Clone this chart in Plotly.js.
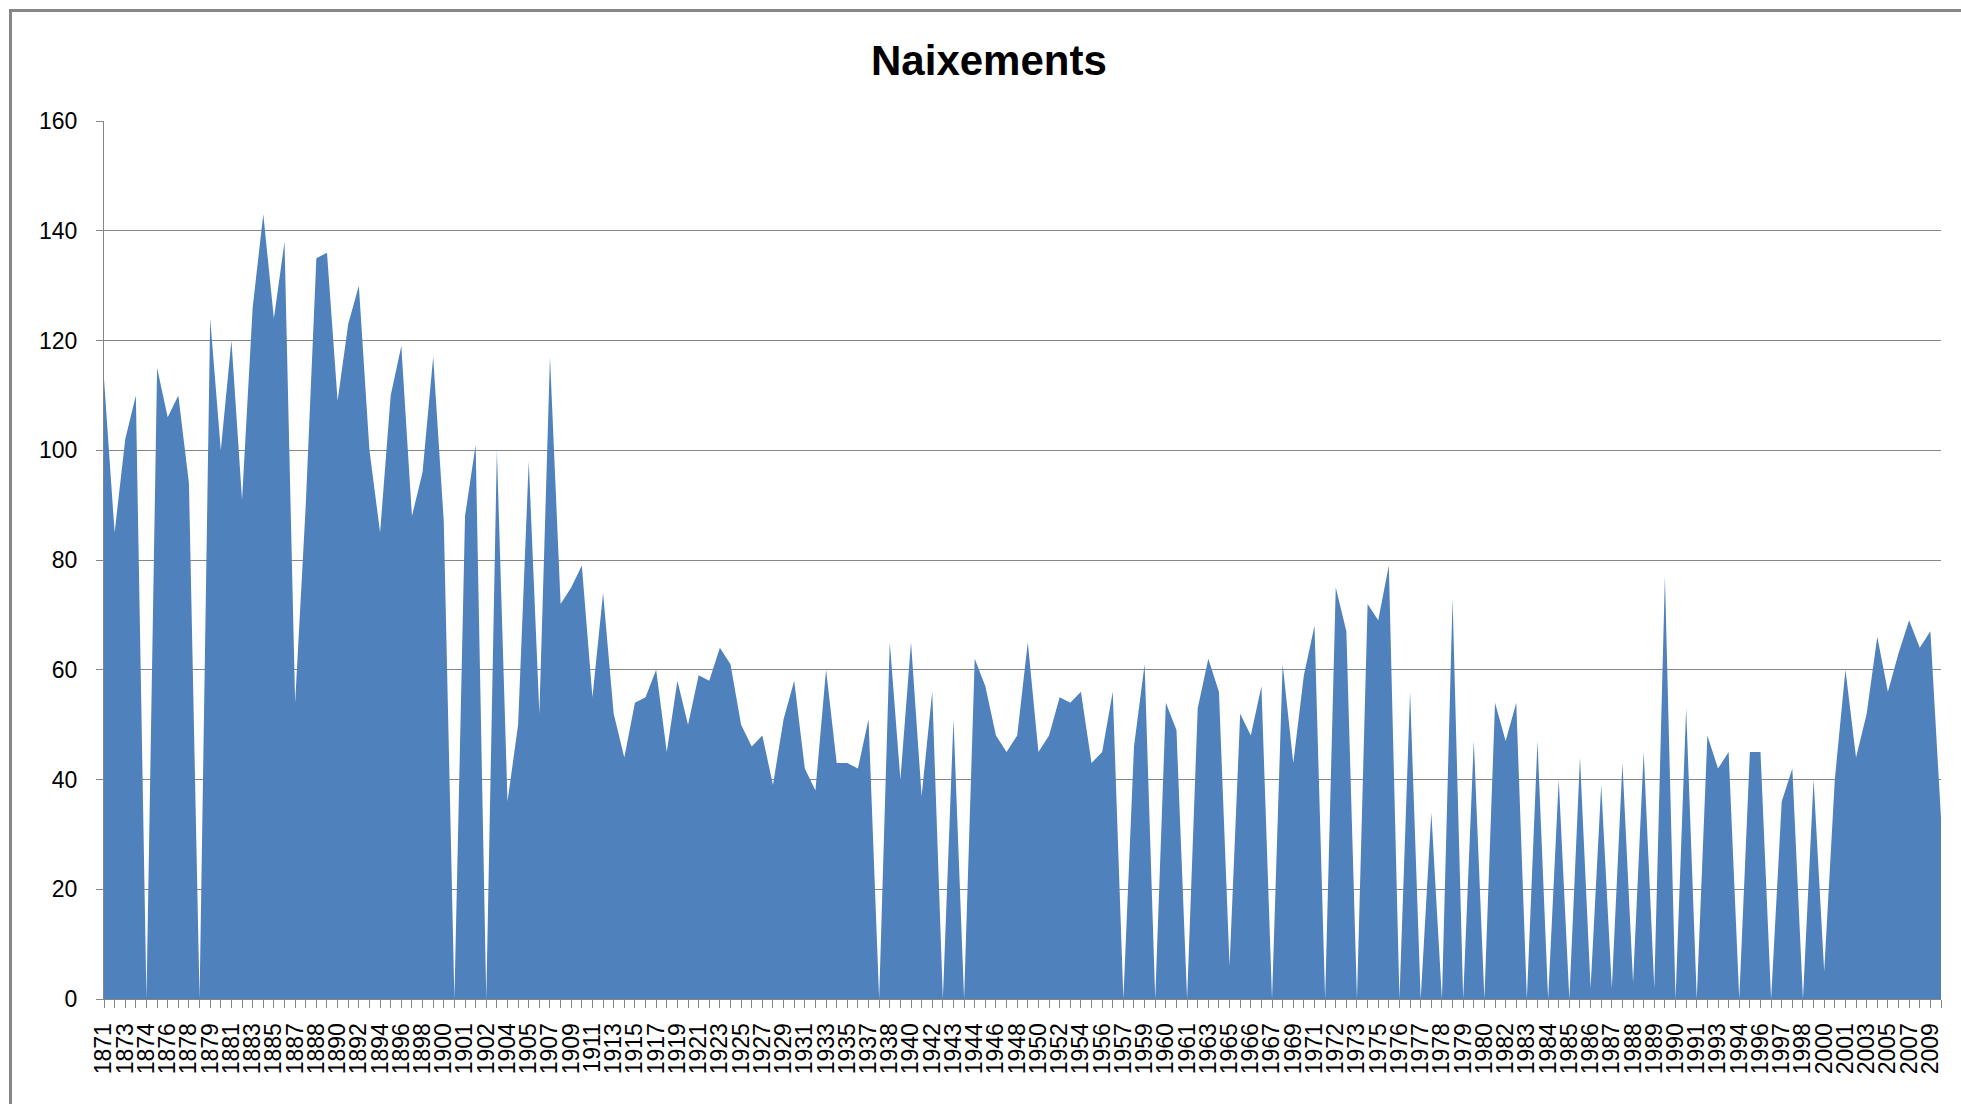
<!DOCTYPE html>
<html>
<head>
<meta charset="utf-8">
<script src="https://cdn.plot.ly/plotly-3.0.1.min.js"></script>
<style>
  html, body { margin: 0; padding: 0; background: #ffffff; overflow: hidden; }
  #chart { width: 1961px; height: 1104px; }
  #frame { position: absolute; left: 9px; top: 9px; width: 1960px; height: 1100px;
           border: 3px solid #868686; box-sizing: border-box; pointer-events: none; }
</style>
</head>
<body>
<div id="chart"></div>
<div id="frame"></div>
<script>
// Tick labels shown on the category axis (every second category is labelled)
const tickLabels = ["1871","1873","1874","1876","1878","1879","1881","1883","1885","1887",
  "1888","1890","1892","1894","1896","1898","1900","1901","1902","1904",
  "1905","1907","1909","1911","1913","1915","1917","1919","1921","1923",
  "1925","1927","1929","1931","1933","1935","1937","1938","1940","1942",
  "1943","1944","1946","1948","1950","1952","1954","1956","1957","1959",
  "1960","1961","1963","1965","1966","1967","1969","1971","1972","1973",
  "1975","1976","1977","1978","1979","1980","1982","1983","1984","1985",
  "1986","1987","1988","1989","1990","1991","1993","1994","1996","1997",
  "1998","2000","2001","2003","2005","2007","2009"];

// Births (Naixements) per category, in order
const births = [113,85,102,110,0,115,106,110,94,0,
  124,100,120,91,126,143,124,138,54,90,
  135,136,109,123,130,100,85,110,119,88,
  96,117,87,0,88,101,0,100,36,50,
  98,52,117,72,75,79,55,74,52,44,
  54,55,60,45,58,50,59,58,64,61,
  50,46,48,39,51,58,42,38,60,43,
  43,42,51,0,65,40,65,37,56,0,
  51,0,62,57,48,45,48,65,45,48,
  55,54,56,43,45,56,0,46,61,0,
  54,49,0,53,62,56,6,52,48,57,
  0,61,43,59,68,0,75,67,0,72,
  69,79,0,56,0,34,0,73,0,47,
  0,54,47,54,0,47,0,40,0,44,
  2,39,2,43,3,45,2,77,0,53,
  0,48,42,45,0,45,45,0,36,42,
  0,40,5,40,60,44,52,66,56,63,
  69,64,67,33];

const chartTitle = "Naixements";

// category positions (one per data row)
const cats = births.map((_, i) => i);
// label text per category: labelled every second category
const tickText = cats.map(i => (i % 2 === 0 && tickLabels[i / 2] !== undefined) ? tickLabels[i / 2] : "");

const trace = {
  type: "scatter",
  mode: "lines",
  x: cats,
  y: births,
  fill: "tozeroy",
  fillcolor: "#4F81BD",
  line: { width: 0, color: "#4F81BD" },
  hoverinfo: "skip",
  showlegend: false
};

const gridColor = "#868686";
const layout = {
  width: 1961,
  height: 1104,
  margin: { l: 104, r: 20, t: 121, b: 105, pad: 0 },
  paper_bgcolor: "#ffffff",
  plot_bgcolor: "#ffffff",
  font: { family: "Liberation Sans, Arial, sans-serif", color: "#000000" },
  title: {
    text: chartTitle,
    font: { family: "Liberation Sans, Arial, sans-serif", size: 42, color: "#000000", weight: "bold" },
    xref: "container", x: 0.5043, xanchor: "center",
    yref: "container", y: 1 - 60 / 1104, yanchor: "middle"
  },
  xaxis: {
    type: "linear",
    range: [0, births.length - 1],
    tickmode: "array",
    tickvals: cats,
    ticktext: tickText,
    tickangle: -90,
    ticks: "outside",
    ticklen: 8,
    tickcolor: gridColor,
    tickwidth: 1,
    tickfont: { size: 23, family: "Liberation Sans, Arial, sans-serif" },
    ticklabelstandoff: 6,
    showgrid: false,
    zeroline: false,
    showline: true,
    linecolor: gridColor,
    linewidth: 1,
    fixedrange: true
  },
  yaxis: {
    range: [0, 160],
    tick0: 0,
    dtick: 20,
    ticks: "outside",
    ticklen: 7,
    tickcolor: gridColor,
    tickwidth: 1,
    tickfont: { size: 23, family: "Liberation Sans, Arial, sans-serif" },
    showgrid: true,
    gridcolor: gridColor,
    gridwidth: 1,
    zeroline: false,
    showline: true,
    linecolor: gridColor,
    linewidth: 1,
    ticklabelstandoff: 14,
    fixedrange: true
  }
};

Plotly.newPlot("chart", [trace], layout, { displayModeBar: false, staticPlot: true });
</script>
</body>
</html>
